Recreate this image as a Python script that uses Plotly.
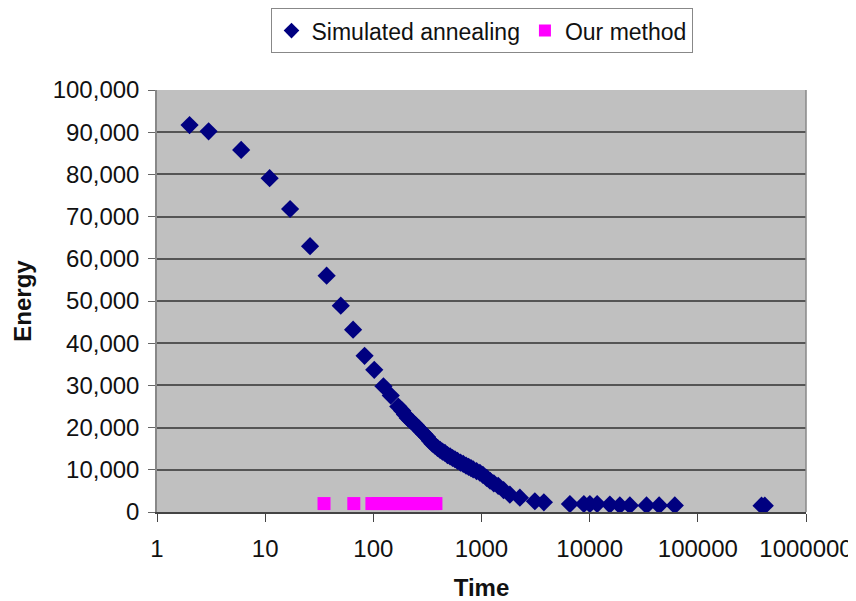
import plotly.graph_objects as go

# Simulated annealing: time vs energy
sa_time = [2, 3, 6, 11, 17, 26, 37, 50, 65, 83, 102, 124, 145, 170,
           185, 196, 208, 220, 234, 248, 263, 279, 296, 314, 333, 352, 371, 392,
           414, 436, 459, 485, 512, 540, 568, 600, 640, 678, 720, 760, 800, 838,
           900, 966, 1030, 1115, 1200, 1300, 1427, 1600, 1829, 2263, 3114, 3774,
           6565, 8840, 10040, 11730, 15370, 19010, 23530, 33560, 43870, 61260,
           388000, 416000]
sa_energy = [91700, 90200, 85800, 79100, 71800, 63000, 56000, 48900, 43200, 37000, 33700, 29800, 27600, 25000,
             24000, 23100, 22300, 21700, 21100, 20500, 19800, 19100, 18400, 17800, 16900, 16200, 15700, 15200,
             14700, 14300, 14000, 13500, 13200, 12800, 12500, 12100, 11700, 11400, 11000, 10700, 10400, 10100,
             9700, 9300, 8800, 8100, 7400, 6800, 6200, 5200, 4100, 3400, 2550, 2300,
             1900, 1900, 1900, 1900, 1750, 1550, 1550, 1550, 1550, 1550,
             1500, 1500]

# Our method: time vs energy
om_time = [35, 66, 97, 110, 125, 140, 158, 178, 200, 225, 255, 285, 320, 355, 379]
om_energy = [2000, 2000, 2000, 2000, 2000, 2000, 2000, 2000, 2000, 2000, 2000, 2000, 2000, 2000, 2000]

x_tickvals = [1, 10, 100, 1000, 10000, 100000, 1000000]
x_ticktext = ["1", "10", "100", "1000", "10000", "100000", "1000000"]
y_tickvals = [0, 10000, 20000, 30000, 40000, 50000, 60000, 70000, 80000, 90000, 100000]

FONT = "Liberation Sans, Arial, sans-serif"

fig = go.Figure()
fig.add_trace(go.Scatter(
    x=sa_time, y=sa_energy, mode="markers", name="Simulated annealing",
    marker=dict(symbol="diamond", size=14, color="#000080", line=dict(width=0)),
))
fig.add_trace(go.Scatter(
    x=om_time, y=om_energy, mode="markers", name="Our method",
    marker=dict(symbol="square", size=13, color="#ff00ff", line=dict(width=0)),
))

fig.update_layout(
    width=848, height=593,
    margin=dict(l=149, r=50, t=82, b=89, autoexpand=False),
    paper_bgcolor="white",
    plot_bgcolor="#c0c0c0",
    font=dict(family=FONT, size=24, color="#111"),
    showlegend=True,
    legend=dict(
        orientation="h", x=0.5, xanchor="center", y=1.194, yanchor="top",
        bordercolor="#888", borderwidth=1, bgcolor="white",
        font=dict(size=23), itemsizing="constant",
    ),
    xaxis=dict(
        type="log", range=[0, 6], automargin=False,
        tickvals=x_tickvals, ticktext=x_ticktext,
        ticks="outside", ticklen=8, tickcolor="#444",
        showline=True, linecolor="#444", linewidth=1.5, mirror=False,
        showgrid=False, zeroline=False,
        ticklabelstandoff=6,
        title=dict(text="<b>Time</b>", font=dict(size=24), standoff=22),
    ),
    yaxis=dict(
        range=[0, 100000], tickvals=y_tickvals, tickformat=",d", automargin=False,
        ticks="outside", ticklen=7, tickcolor="#666",
        showline=True, linecolor="#888", linewidth=1.5,
        showgrid=True, gridcolor="#555555", gridwidth=1.5,
        zeroline=False,
        ticklabelstandoff=4,
        title=dict(text="<b>Energy</b>", font=dict(size=24), standoff=14),
    ),
    shapes=[dict(type="line", xref="paper", yref="paper", x0=1, x1=1, y0=0, y1=1,
                 line=dict(color="#888", width=1.5))],
)

fig.write_html("out.html")
